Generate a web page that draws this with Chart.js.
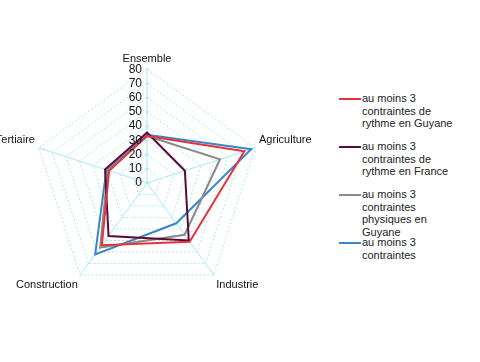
<!DOCTYPE html>
<html>
<head>
<meta charset="utf-8">
<script src="https://cdn.jsdelivr.net/npm/chart.js@4"></script>
<style>
  html, body { margin: 0; padding: 0; background: #fff; }
  #wrap { position: relative; width: 480px; height: 362px; overflow: hidden; font-family: "Liberation Sans", Arial, sans-serif; }
  #box { position: absolute; left: -10px; top: 0; width: 330px; height: 362px; }
  #legend { position: absolute; left: 339px; top: 92px; font-size: 11px; color: #222; line-height: 12.5px; }
  .item { position: absolute; left: 0; width: 140px; }
  .item i { position: absolute; left: 0; top: 6px; width: 22px; height: 2px; }
  .item span { display: block; margin-left: 23px; }
</style>
</head>
<body>
<div id="wrap">
  <div id="box"><canvas id="chart"></canvas></div>
  <div id="legend"></div>
</div>
<script>
// categories and series
const categories = ['Ensemble', 'Agriculture', 'Industrie', 'Construction', 'Tertiaire'];
const rythmeGuyane = [33, 72, 51, 54, 28];
const rythmeFrance = [35.5, 28, 50, 46, 31];
const physiquesGuyane = [33, 54, 45, 56, 29];
const contraintes = [34, 77, 35, 62, 30];
const ticks = [0, 10, 20, 30, 40, 50, 60, 70, 80];

const series = [
  { label: ['au moins 3', 'contraintes de', 'rythme en Guyane'], data: rythmeGuyane, color: '#e8323a' },
  { label: ['au moins 3', 'contraintes de', 'rythme en France'], data: rythmeFrance, color: '#5c0a3a' },
  { label: ['au moins 3', 'contraintes', 'physiques en', 'Guyane'], data: physiquesGuyane, color: '#8a8a8a' },
  { label: ['au moins 3', 'contraintes'], data: contraintes, color: '#3b86c8' }
];

const GRID = '#a8e8f8';

// tick labels drawn left of the axis, like the original
const tickLabels = {
  id: 'tickLabels',
  afterDraw(chart) {
    const r = chart.scales.r;
    const ctx = chart.ctx;
    ctx.save();
    ctx.font = '12px "Liberation Sans", Arial, sans-serif';
    ctx.fillStyle = '#111';
    ctx.textAlign = 'right';
    ctx.textBaseline = 'middle';
    ticks.forEach((t) => {
      const p = r.getPointPositionForValue(0, t);
      ctx.fillText(String(t), p.x - 5, p.y);
      ctx.strokeStyle = GRID;
      ctx.beginPath(); ctx.moveTo(p.x - 2, p.y); ctx.lineTo(p.x + 2, p.y); ctx.stroke();
    });
    ctx.restore();
  }
};

new Chart(document.getElementById('chart'), {
  type: 'radar',
  data: {
    labels: categories,
    datasets: series.map((s) => ({
      label: s.label.join(' '), data: s.data, borderColor: s.color, backgroundColor: 'transparent',
      borderWidth: 2, pointRadius: 0, fill: false, tension: 0
    }))
  },
  options: {
    responsive: true, maintainAspectRatio: false, animation: false,
    layout: { padding: { top: 44, bottom: 56, left: 0, right: 0 } },
    plugins: { legend: { display: false }, tooltip: { enabled: false } },
    scales: {
      r: {
        min: 0, max: 80,
        ticks: { stepSize: 10, display: false },
        grid: { color: GRID, lineWidth: 1 },
        border: { dash: [2, 2] },
        angleLines: { color: GRID, lineWidth: 1 },
        pointLabels: { color: '#111', font: { size: 11, family: '"Liberation Sans", Arial, sans-serif' }, padding: 4 }
      }
    }
  },
  plugins: [tickLabels]
});

// HTML legend, wrapped like the original
const legend = document.getElementById('legend');
series.forEach((s, i) => {
  const d = document.createElement('div');
  d.className = 'item';
  d.style.top = (i * 48) + 'px';
  d.innerHTML = '<i style="background:' + s.color + '"></i><span>' + s.label.join('<br>') + '</span>';
  legend.appendChild(d);
});
</script>
</body>
</html>
